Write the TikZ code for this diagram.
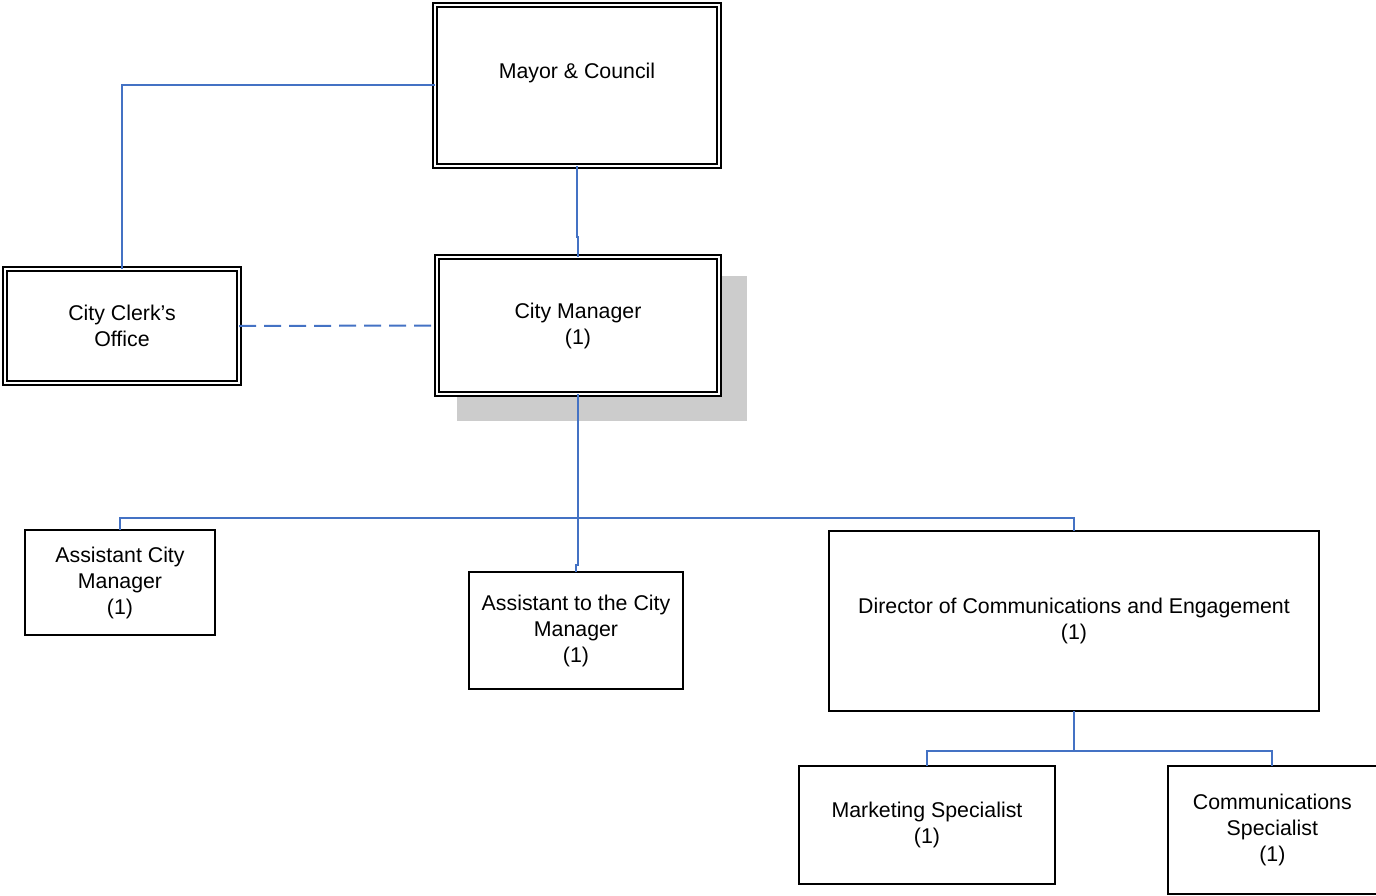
\documentclass[tikz,border=0pt]{standalone}
\usepackage{fontspec}
\setmainfont{Liberation Sans}
\usetikzlibrary{backgrounds}
\definecolor{linkblue}{HTML}{4472C4}
\definecolor{shadowgray}{HTML}{CCCCCC}
\tikzset{
  unit/.style={draw=black, fill=white, line width=1.5pt, inner sep=0pt, outer sep=0pt,
    align=center, font=\fontsize{16pt}{19.5pt}\selectfont},
  board/.style={unit, line width=1.1pt, double=white, double distance=2.2pt},
  link/.style={draw=linkblue, line width=1.5pt},
  staff/.style={link, dash pattern=on 12.75pt off 6pt},
}
\begin{document}
\begin{tikzpicture}[x=0.75pt, y=-0.75pt]
  \useasboundingbox (0,0) rectangle (1376,895);
  \clip (0,0) rectangle (1376,895);

  % governing body and executive office
  \node[board, minimum width=213pt, minimum height=120.75pt] (may) at (577,85.5) {Mayor \& Council\\[-3pt]\strut};
  \node[board, minimum width=211.5pt, minimum height=102.75pt] (cm) at (578,325.5) {City Manager\\(1)};
  \node[board, minimum width=175.5pt, minimum height=85.5pt] (clerk) at (122,326) {City Clerk’s\\Office};

  % offset shadow behind the City Manager box
  \begin{pgfonlayer}{background}
    \fill[shadowgray] ([shift={(20,19)}]cm.north west) rectangle ([shift={(28,27)}]cm.south east);
  \end{pgfonlayer}

  % direct reports
  \node[unit, minimum width=142.5pt, minimum height=78.75pt] (acm) at (120,582.5) {Assistant City\\Manager\\(1)};
  \node[unit, minimum width=160.5pt, minimum height=87.75pt] (atcm) at (576,630.5) {Assistant to the City\\Manager\\(1)};
  \node[unit, minimum width=367.5pt, minimum height=135pt] (dir) at (1074,621) {Director of Communications and Engagement\\(1)};

  % communications staff
  \node[unit, minimum width=192pt, minimum height=88.5pt] (mkt) at (927,825) {Marketing Specialist\\(1)};
  \node[unit, minimum width=156.4pt, minimum height=96pt] (com) at (1272.3,830) {Communications\\Specialist\\(1)};

  % connectors
  \coordinate (bus) at (578,518);
  \coordinate (bus2) at (1074,751);

  \draw[link] (may.west) -| (clerk.north);
  \draw[link] (may.south) -- ++(0,71) -| (cm.north);
  \draw[staff] (clerk.east) -- (cm.west);

  \draw[link] (cm.south) -- (bus);
  \draw[link] (acm.north) |- (bus) -| (dir.north);
  \draw[link] (bus) -- ++(0,47) -| (atcm.north);

  \draw[link] (dir.south) -- (bus2);
  \draw[link] (mkt.north) |- (bus2) -| (com.north);
\end{tikzpicture}
\end{document}
